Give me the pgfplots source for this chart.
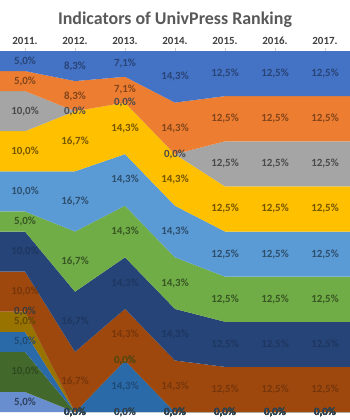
\documentclass[border=0pt]{standalone}
\usepackage{pgfplots}
\pgfplotsset{compat=1.18}
\usepackage{fontspec}
\setmainfont{Carlito}
\definecolor{c1}{HTML}{4472C4}
\definecolor{c2}{HTML}{ED7D31}
\definecolor{c3}{HTML}{A5A5A5}
\definecolor{c4}{HTML}{FFC000}
\definecolor{c5}{HTML}{5B9BD5}
\definecolor{c6}{HTML}{70AD47}
\definecolor{c7}{HTML}{264478}
\definecolor{c8}{HTML}{9E480E}
\definecolor{c9}{HTML}{636363}
\definecolor{c10}{HTML}{997300}
\definecolor{c11}{HTML}{2B6AA8}
\definecolor{c12}{HTML}{43682B}
\definecolor{c13}{HTML}{698ED0}
\definecolor{titlegray}{HTML}{595959}
\definecolor{yeargray}{HTML}{404040}
\pgfplotsset{
  base/.style={at={(0,8bp)}, anchor=south west, scale only axis,
    width=350bp, height=361bp, xmin=-0.5, xmax=6.5, ymin=0, ymax=100,
    y dir=reverse},
  lab/.style={only marks, mark=none, point meta=explicit symbolic,
    nodes near coords={\pgfplotspointmeta\%}, nodes near coords align={center},
    every node near coord/.append style={font=\fontsize{11}{12}\selectfont\bfseries,
      text=#1, inner sep=0pt}},
}
\begin{document}
\begin{tikzpicture}
\useasboundingbox (0,0) rectangle (350bp,420bp);
\node[anchor=base, text=titlegray, font=\fontsize{18}{20}\selectfont\bfseries] at (175bp,395bp) {Indicators of UnivPress Ranking};
\begin{axis}[base, stack plots=y,
  axis line style={draw=none},
  ytick=\empty,
  xtick={0,1,2,3,4,5,6},
  xticklabels={{\textbf{2011.}},{\textbf{2012.}},{\textbf{2013.}},{\textbf{2014.}},{\textbf{2015.}},{\textbf{2016.}},{\textbf{2017.}}},
  xtick pos=right, xticklabel pos=right,
  x tick label style={font=\fontsize{11}{12}\selectfont, text=yeargray},
  x tick style={draw=gray!40, line width=0.5pt},
  major tick length=3bp, tick align=outside,
]
% series 1 (top) .. 13 (bottom); 2011 column normalised to 100% (raw sum 90%)
\addplot[fill=c1, draw=none] coordinates {(-0.5,5.556)(0,5.556)(1,8.33)(2,7.14)(3,14.29)(4,12.5)(5,12.5)(6,12.5)(6.5,12.5)} \closedcycle;
\addplot[fill=c2, draw=none] coordinates {(-0.5,5.556)(0,5.556)(1,8.33)(2,7.14)(3,14.29)(4,12.5)(5,12.5)(6,12.5)(6.5,12.5)} \closedcycle;
\addplot[fill=c3, draw=none] coordinates {(-0.5,11.111)(0,11.111)(1,0)(2,0)(3,0)(4,12.5)(5,12.5)(6,12.5)(6.5,12.5)} \closedcycle;
\addplot[fill=c4, draw=none] coordinates {(-0.5,11.111)(0,11.111)(1,16.67)(2,14.29)(3,14.29)(4,12.5)(5,12.5)(6,12.5)(6.5,12.5)} \closedcycle;
\addplot[fill=c5, draw=none] coordinates {(-0.5,11.111)(0,11.111)(1,16.67)(2,14.29)(3,14.29)(4,12.5)(5,12.5)(6,12.5)(6.5,12.5)} \closedcycle;
\addplot[fill=c6, draw=none] coordinates {(-0.5,5.556)(0,5.556)(1,16.67)(2,14.29)(3,14.29)(4,12.5)(5,12.5)(6,12.5)(6.5,12.5)} \closedcycle;
\addplot[fill=c7, draw=none] coordinates {(-0.5,11.111)(0,11.111)(1,16.67)(2,14.29)(3,14.29)(4,12.5)(5,12.5)(6,12.5)(6.5,12.5)} \closedcycle;
\addplot[fill=c8, draw=none] coordinates {(-0.5,11.111)(0,11.111)(1,16.67)(2,14.29)(3,14.29)(4,12.5)(5,12.5)(6,12.5)(6.5,12.5)} \closedcycle;
\addplot[fill=c9, draw=none] coordinates {(-0.5,0)(0,0)(1,0)(2,0)(3,0)(4,0)(5,0)(6,0)(6.5,0)} \closedcycle;
\addplot[fill=c10, draw=none] coordinates {(-0.5,5.556)(0,5.556)(1,0)(2,0)(3,0)(4,0)(5,0)(6,0)(6.5,0)} \closedcycle;
\addplot[fill=c11, draw=none] coordinates {(-0.5,5.556)(0,5.556)(1,0)(2,14.29)(3,0)(4,0)(5,0)(6,0)(6.5,0)} \closedcycle;
\addplot[fill=c12, draw=none] coordinates {(-0.5,11.111)(0,11.111)(1,0)(2,0)(3,0)(4,0)(5,0)(6,0)(6.5,0)} \closedcycle;
\addplot[fill=c13, draw=none] coordinates {(-0.5,5.556)(0,5.556)(1,0)(2,0)(3,0)(4,0)(5,0)(6,0)(6.5,0)} \closedcycle;
\end{axis}
\begin{axis}[base, hide axis, clip=false]
\addplot[lab=c1!60!black] table[meta=l] {
x y l
0 2.78 5,0
1 4.17 8,3
2 3.57 7,1
3 7.14 14,3
4 6.25 12,5
5 6.25 12,5
6 6.25 12,5
};
\addplot[lab=c2!55!black] table[meta=l] {
x y l
0 8.33 5,0
1 12.5 8,3
2 10.71 7,1
3 21.43 14,3
4 18.75 12,5
5 18.75 12,5
6 18.75 12,5
};
\addplot[lab=c3!45!black] table[meta=l] {
x y l
0 16.67 10,0
1 16.66 0,0
2 14.28 0,0
3 28.57 0,0
4 31.25 12,5
5 31.25 12,5
6 31.25 12,5
};
\addplot[lab=c4!45!black] table[meta=l] {
x y l
0 27.78 10,0
1 25.0 16,7
2 21.43 14,3
3 35.71 14,3
4 43.75 12,5
5 43.75 12,5
6 43.75 12,5
};
\addplot[lab=c5!50!black] table[meta=l] {
x y l
0 38.89 10,0
1 41.67 16,7
2 35.71 14,3
3 50.0 14,3
4 56.25 12,5
5 56.25 12,5
6 56.25 12,5
};
\addplot[lab=c6!50!black] table[meta=l] {
x y l
0 47.22 5,0
1 58.33 16,7
2 50.0 14,3
3 64.29 14,3
4 68.75 12,5
5 68.75 12,5
6 68.75 12,5
};
\addplot[lab=c7!80!black] table[meta=l] {
x y l
0 55.56 10,0
1 75.0 16,7
2 64.29 14,3
3 78.57 14,3
4 81.25 12,5
5 81.25 12,5
6 81.25 12,5
};
\addplot[lab=c8!75!black] table[meta=l] {
x y l
0 66.67 10,0
1 91.67 16,7
2 78.57 14,3
3 92.86 14,3
4 93.75 12,5
5 93.75 12,5
6 93.75 12,5
};
\addplot[lab=c9!60!black] table[meta=l] {
x y l
0 72.22 0,0
1 100 0,0
2 85.71 0,0
3 100 0,0
4 100 0,0
5 100 0,0
6 100 0,0
};
\addplot[lab=c10!65!black] table[meta=l] {
x y l
0 75.0 5,0
1 100 0,0
2 85.71 0,0
3 100 0,0
4 100 0,0
5 100 0,0
6 100 0,0
};
\addplot[lab=c11!70!black] table[meta=l] {
x y l
0 80.56 5,0
1 100 0,0
2 92.86 14,3
3 100 0,0
4 100 0,0
5 100 0,0
6 100 0,0
};
\addplot[lab=c12!70!black] table[meta=l] {
x y l
0 88.89 10,0
1 100 0,0
2 100 0,0
3 100 0,0
4 100 0,0
5 100 0,0
6 100 0,0
};
\addplot[lab=c13!45!black] table[meta=l] {
x y l
0 97.22 5,0
1 100 0,0
2 100 0,0
3 100 0,0
4 100 0,0
5 100 0,0
6 100 0,0
};
\end{axis}
\end{tikzpicture}
\end{document}
